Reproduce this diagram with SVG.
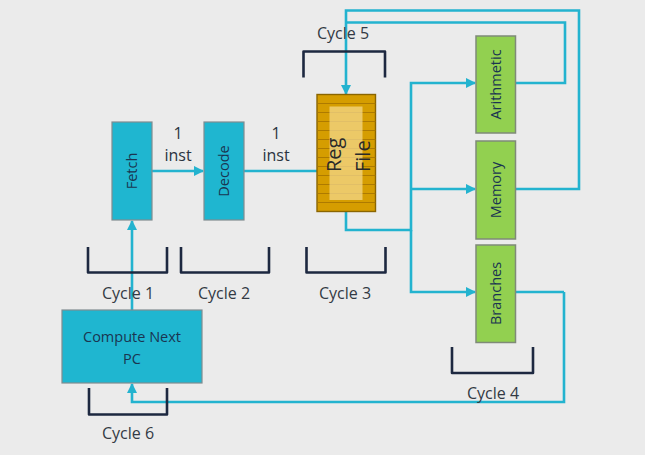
<svg xmlns="http://www.w3.org/2000/svg" width="645" height="455" viewBox="0 0 645 455">
<defs>
<marker id="ah" viewBox="0 0 10 10" refX="9" refY="5" markerWidth="4" markerHeight="4" orient="auto" markerUnits="strokeWidth">
<path d="M0,0 L10,5 L0,10 z" fill="#23b3cf"/>
</marker>
</defs>
<style>
.bg{fill:#ebebeb}
.teal{fill:#1fb6d0;stroke:#808c90;stroke-width:1.2}
.green{fill:#92d050;stroke:#7f8a78;stroke-width:1.5}
.lbl{font-family:"Open Sans","Liberation Sans",sans-serif;font-size:14.5px;fill:#1a3550}
.cyc{font-family:"Open Sans","Liberation Sans",sans-serif;font-size:16px;fill:#333a44;text-anchor:middle}
.inst{font-family:"Open Sans","Liberation Sans",sans-serif;font-size:16px;fill:#2a3340;text-anchor:middle}
.br{fill:none;stroke:#1d2840;stroke-width:2.6;stroke-linejoin:round}
.wire{fill:none;stroke:#23b3cf;stroke-width:2.6}
.arr{marker-end:url(#ah)}
.stripe{stroke:#a87600;stroke-width:0.9}
</style>
<rect class="bg" x="0" y="0" width="645" height="455"/>

<g id="connectors">
<path class="wire arr" d="M152,171 H203"/>
<path class="wire" d="M244,171 H317"/>
<path class="wire arr" d="M132,310 V221"/>
<path class="wire arr" d="M564,292 V402 H132 V384"/>
<path class="wire arr" d="M346,211 V230 H411 V83 H475"/>
<path class="wire arr" d="M411,189 H475"/>
<path class="wire arr" d="M411,230 V292 H475"/>
<path class="wire" d="M515,292 H564"/>
<path class="wire" d="M515,83 H565 V22.5 H346"/>
<path class="wire arr" d="M515,189 H579 V10.5 H346 V94"/>
</g>

<g id="fetch">
<rect class="teal" x="112" y="122" width="40" height="98"/>
<text class="lbl" transform="translate(137,171) rotate(-90)" text-anchor="middle">Fetch</text>
</g>
<g id="decode">
<rect class="teal" x="204" y="122" width="40" height="98"/>
<text class="lbl" transform="translate(229,171) rotate(-90)" text-anchor="middle">Decode</text>
</g>
<g id="regfile">
<rect x="317" y="94.5" width="58.5" height="117" fill="#d59d00" stroke="#8a6500" stroke-width="1.4"/>
<g class="stripe">
<line x1="317" y1="103.5" x2="375.5" y2="103.5"/>
<line x1="317" y1="112.5" x2="375.5" y2="112.5"/>
<line x1="317" y1="121.5" x2="375.5" y2="121.5"/>
<line x1="317" y1="130.5" x2="375.5" y2="130.5"/>
<line x1="317" y1="139.5" x2="375.5" y2="139.5"/>
<line x1="317" y1="148.5" x2="375.5" y2="148.5"/>
<line x1="317" y1="157.5" x2="375.5" y2="157.5"/>
<line x1="317" y1="166.5" x2="375.5" y2="166.5"/>
<line x1="317" y1="175.5" x2="375.5" y2="175.5"/>
<line x1="317" y1="184.5" x2="375.5" y2="184.5"/>
<line x1="317" y1="193.5" x2="375.5" y2="193.5"/>
<line x1="317" y1="202.5" x2="375.5" y2="202.5"/>
</g>
<rect x="329.5" y="106.5" width="33" height="93.5" fill="#f5d98f" opacity="0.72"/>
<text transform="translate(341,172) rotate(-90)" font-family="Open Sans, Liberation Sans, sans-serif" font-size="20" fill="#2a2a2a">Reg</text>
<text transform="translate(370,172) rotate(-90)" font-family="Open Sans, Liberation Sans, sans-serif" font-size="20" fill="#2a2a2a">File</text>
</g>
<g id="arithmetic">
<rect class="green" x="476" y="36" width="39.5" height="97"/>
<text class="lbl" transform="translate(501,84.5) rotate(-90)" text-anchor="middle">Arithmetic</text>
</g>
<g id="memory">
<rect class="green" x="476" y="141" width="39.5" height="98"/>
<text class="lbl" transform="translate(501,190) rotate(-90)" text-anchor="middle">Memory</text>
</g>
<g id="branches">
<rect class="green" x="476" y="245" width="39.5" height="97.5"/>
<text class="lbl" transform="translate(501,293.5) rotate(-90)" text-anchor="middle">Branches</text>
</g>
<g id="computepc">
<rect class="teal" x="62" y="310" width="140" height="73"/>
<text class="lbl" x="132" y="342" text-anchor="middle" font-size="16">Compute Next</text>
<text class="lbl" x="132" y="364" text-anchor="middle" font-size="16">PC</text>
</g>

<g id="labels">
<text class="inst" x="178" y="139">1</text>
<text class="inst" x="178" y="161">inst</text>
<text class="inst" x="276" y="139">1</text>
<text class="inst" x="276" y="161">inst</text>
</g>

<g id="brackets">
<path class="br" d="M88,247 V272.5 H167 V247"/>
<path class="br" d="M181,247 V272.5 H269 V247"/>
<path class="br" d="M306.5,247 V272.5 H385.5 V247"/>
<path class="br" d="M303.5,77.5 V51.5 H385 V77.5"/>
<path class="br" d="M452,347 V373 H533 V347"/>
<path class="br" d="M89,388 V414.5 H167 V388"/>
<text class="cyc" x="128" y="299">Cycle 1</text>
<text class="cyc" x="224" y="299">Cycle 2</text>
<text class="cyc" x="345" y="299">Cycle 3</text>
<text class="cyc" x="343" y="39">Cycle 5</text>
<text class="cyc" x="493" y="399">Cycle 4</text>
<text class="cyc" x="128" y="439">Cycle 6</text>
</g>
</svg>
